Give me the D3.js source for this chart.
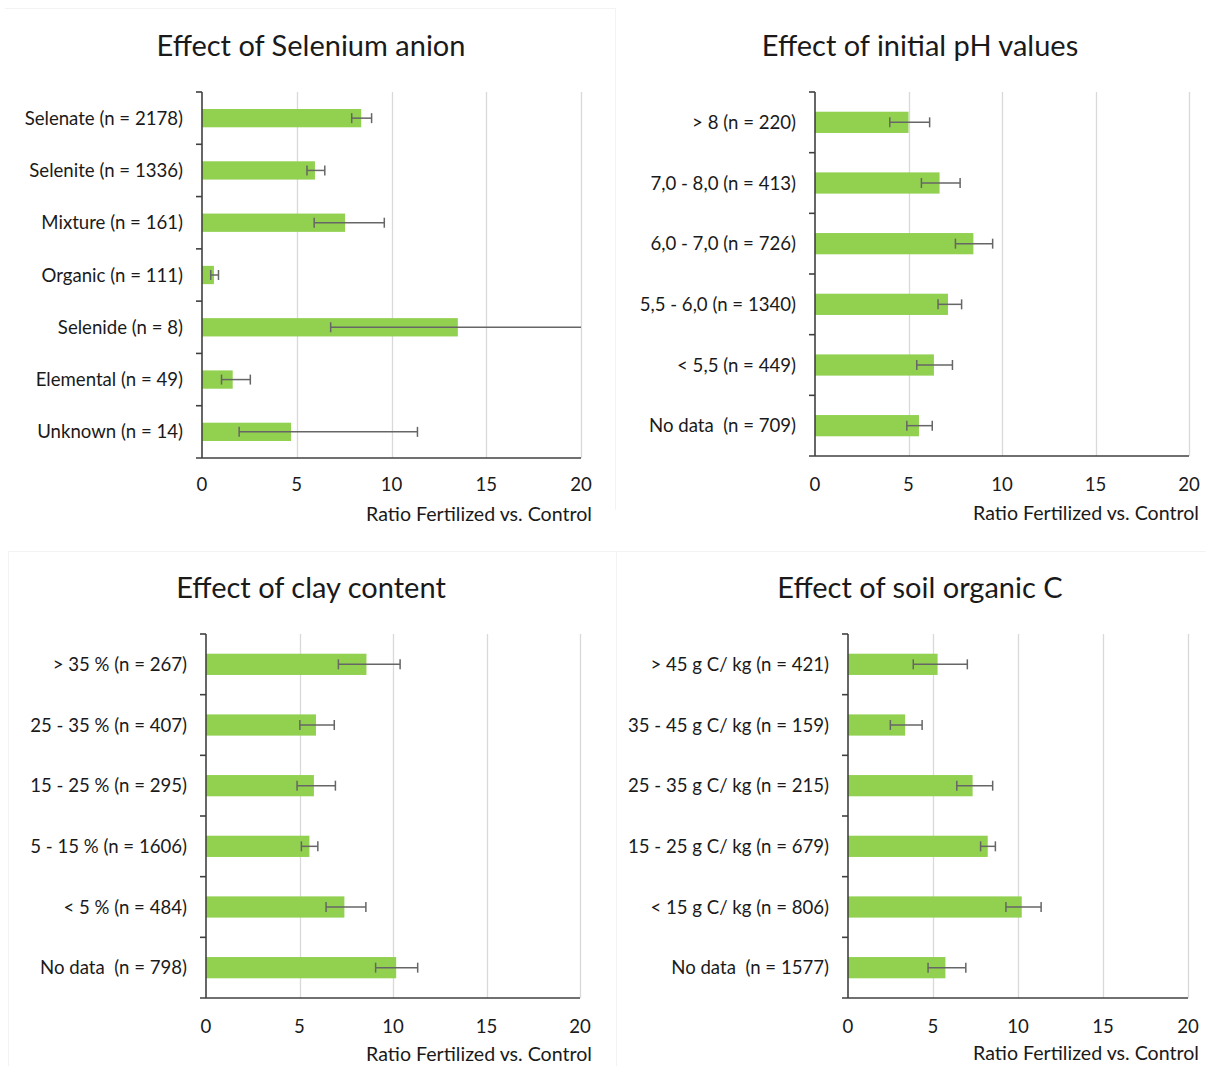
<!DOCTYPE html>
<html>
<head>
<meta charset="utf-8">
<script src="https://cdn.jsdelivr.net/npm/d3@7"></script>
<style>
  html, body { margin: 0; padding: 0; background: #fff; }
  svg { display: block; }
  text { font-family: Lato, "Open Sans", sans-serif; fill: #1a1a1a; }
</style>
</head>
<body>
<svg id="chart" width="1206" height="1066"></svg>
<script>
// ---------- DATA ----------
const anionCategories = ["Selenate (n = 2178)", "Selenite (n = 1336)", "Mixture (n = 161)", "Organic (n = 111)", "Selenide (n = 8)", "Elemental (n = 49)", "Unknown (n = 14)"];
const anionValues = [8.4, 5.96, 7.55, 0.63, 13.5, 1.62, 4.7];
const anionLower  = [7.9, 5.54, 5.92, 0.46, 6.79, 1.03, 1.96];
const anionUpper  = [8.95, 6.48, 9.62, 0.87, 21.0, 2.55, 11.37];

const phCategories = ["> 8 (n = 220)", "7,0 - 8,0 (n = 413)", "6,0 - 7,0 (n = 726)", "5,5 - 6,0 (n = 1340)", "< 5,5 (n = 449)", "No data  (n = 709)"];
const phValues = [5.0, 6.66, 8.47, 7.11, 6.36, 5.56];
const phLower  = [4.0, 5.69, 7.51, 6.58, 5.44, 4.91];
const phUpper  = [6.13, 7.76, 9.5, 7.84, 7.35, 6.27];

const clayCategories = ["> 35 % (n = 267)", "25 - 35 % (n = 407)", "15 - 25 % (n = 295)", "5 - 15 % (n = 1606)", "< 5 % (n = 484)", "No data  (n = 798)"];
const clayValues = [8.58, 5.88, 5.77, 5.53, 7.4, 10.17];
const clayLower  = [7.08, 5.02, 4.87, 5.1, 6.42, 9.07];
const clayUpper  = [10.38, 6.86, 6.92, 5.98, 8.55, 11.32];

const socCategories = ["> 45 g C/ kg (n = 421)", "35 - 45 g C/ kg (n = 159)", "25 - 35 g C/ kg (n = 215)", "15 - 25 g C/ kg (n = 679)", "< 15 g C/ kg (n = 806)", "No data  (n = 1577)"];
const socValues = [5.27, 3.36, 7.33, 8.22, 10.22, 5.73];
const socLower  = [3.84, 2.49, 6.4, 7.8, 9.29, 4.71];
const socUpper  = [7.02, 4.36, 8.51, 8.67, 11.36, 6.93];

const xTicks = [0, 5, 10, 15, 20];
const titles = ["Effect of Selenium anion", "Effect of initial pH values", "Effect of clay content", "Effect of soil organic C"];
const axisTitle = "Ratio Fertilized vs. Control";

// ---------- LAYOUT ----------
const panels = [
  { title: titles[0], cats: anionCategories, vals: anionValues, lo: anionLower, hi: anionUpper,
    x0: 202, x1: 581, top: 92, bottom: 458, titleX: 311, titleY: 56, tickY: 491, axTitleX: 592, axTitleY: 521 },
  { title: titles[1], cats: phCategories, vals: phValues, lo: phLower, hi: phUpper,
    x0: 815, x1: 1189, top: 92, bottom: 456, titleX: 920, titleY: 56, tickY: 491, axTitleX: 1199, axTitleY: 520 },
  { title: titles[2], cats: clayCategories, vals: clayValues, lo: clayLower, hi: clayUpper,
    x0: 206, x1: 580, top: 634, bottom: 998, titleX: 311, titleY: 598, tickY: 1033, axTitleX: 592, axTitleY: 1061 },
  { title: titles[3], cats: socCategories, vals: socValues, lo: socLower, hi: socUpper,
    x0: 848, x1: 1188, top: 634, bottom: 998, titleX: 920, titleY: 598, tickY: 1033, axTitleX: 1199, axTitleY: 1060 }
];

const svg = d3.select("#chart");

// faint chart-area borders
const borders = svg.append("g").attr("stroke", "#f3f3f3").attr("fill", "none");
borders.append("line").attr("x1", 5).attr("x2", 615).attr("y1", 8.5).attr("y2", 8.5);
borders.append("line").attr("x1", 615.5).attr("x2", 615.5).attr("y1", 8).attr("y2", 510);
borders.append("line").attr("x1", 8).attr("x2", 1206).attr("y1", 551.5).attr("y2", 551.5);
borders.append("line").attr("x1", 616.5).attr("x2", 616.5).attr("y1", 551).attr("y2", 1066);
borders.append("line").attr("x1", 8.5).attr("x2", 8.5).attr("y1", 551).attr("y2", 1066);

panels.forEach(p => {
  const g = svg.append("g");
  const x = d3.scaleLinear().domain([0, 20]).range([p.x0, p.x1]);
  const y = d3.scaleBand().domain(p.cats).range([p.top, p.bottom]).paddingInner(0.65).paddingOuter(0.325);
  const step = y.step();

  // title
  g.append("text").attr("x", p.titleX).attr("y", p.titleY).attr("text-anchor", "middle")
    .style("font-size", "29px").text(p.title);

  // gridlines
  g.append("g").selectAll("line").data(xTicks.filter(t => t > 0)).join("line")
    .attr("x1", d => Math.round(x(d)) + 0.5).attr("x2", d => Math.round(x(d)) + 0.5)
    .attr("y1", p.top).attr("y2", p.bottom)
    .attr("stroke", "#d9d9d9").attr("stroke-width", 1.3);

  // bars
  g.append("g").selectAll("rect").data(p.cats).join("rect")
    .attr("x", x(0)).attr("y", d => y(d))
    .attr("width", (d, i) => x(p.vals[i]) - x(0)).attr("height", y.bandwidth())
    .attr("fill", "#92d050");

  // error bars
  const eb = g.append("g").attr("stroke", "#666").attr("stroke-width", 1.5);
  p.cats.forEach((c, i) => {
    const cy = y(c) + y.bandwidth() / 2;
    const lo = p.lo[i], hi = p.hi[i];
    const hiC = Math.min(hi, 20);
    eb.append("line").attr("x1", x(lo)).attr("x2", x(hiC)).attr("y1", cy).attr("y2", cy);
    eb.append("line").attr("x1", x(lo)).attr("x2", x(lo)).attr("y1", cy - 5).attr("y2", cy + 5);
    if (hi <= 20) eb.append("line").attr("x1", x(hi)).attr("x2", x(hi)).attr("y1", cy - 5).attr("y2", cy + 5);
  });

  // y axis with ticks at band boundaries
  const ax = g.append("g").attr("stroke", "#404040").attr("stroke-width", 1.6);
  ax.append("line").attr("x1", x(0)).attr("x2", x(0)).attr("y1", p.top).attr("y2", p.bottom);
  d3.range(p.cats.length).forEach(k => {
    const yy = p.top + k * step;
    ax.append("line").attr("x1", x(0) - 6).attr("x2", x(0)).attr("y1", yy).attr("y2", yy);
  });
  // x axis line
  ax.append("line").attr("x1", x(0) - 6).attr("x2", x(20)).attr("y1", p.bottom).attr("y2", p.bottom);

  // category labels
  g.append("g").selectAll("text").data(p.cats).join("text")
    .attr("x", x(0) - 19).attr("y", d => y(d) + y.bandwidth() / 2)
    .attr("dy", "0.35em").attr("text-anchor", "end")
    .style("font-size", "18.6px").style("white-space", "pre")
    .attr("xml:space", "preserve")
    .text(d => d);

  // x tick labels
  g.append("g").selectAll("text").data(xTicks).join("text")
    .attr("x", d => x(d)).attr("y", p.tickY).attr("text-anchor", "middle")
    .style("font-size", "18.6px").text(d => d);

  // axis title
  g.append("text").attr("x", p.axTitleX).attr("y", p.axTitleY).attr("text-anchor", "end")
    .style("font-size", "19.6px").text(axisTitle);
});
</script>
</body>
</html>
